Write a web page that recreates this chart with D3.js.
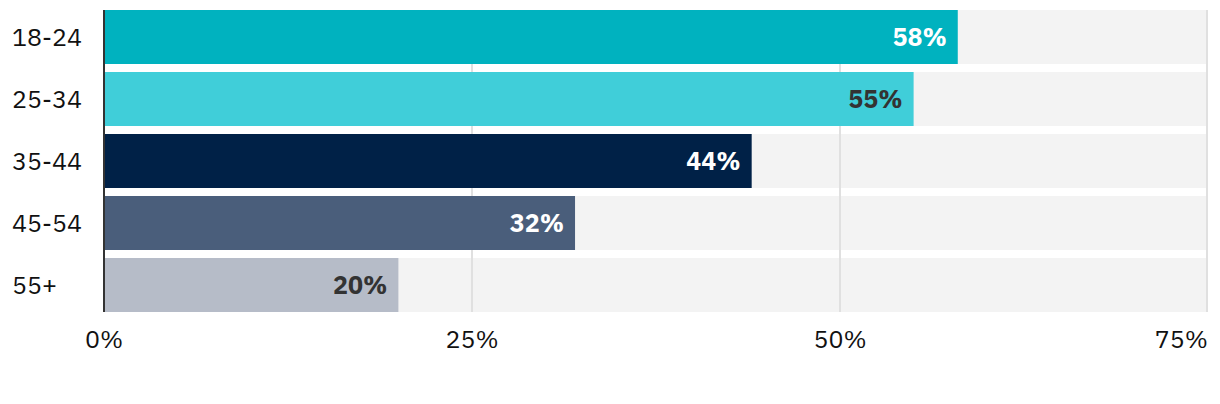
<!DOCTYPE html>
<html>
<head>
<meta charset="utf-8">
<script src="https://cdn.jsdelivr.net/npm/d3@7"></script>
<style>
  html, body { margin: 0; padding: 0; background: #fff; }
  svg { display: block; }
  text { font-family: "IBM Plex Sans", Inter, "Noto Sans", sans-serif; }
</style>
</head>
<body>
<div id="chart"></div>
<script>
const categories = ["18-24", "25-34", "35-44", "45-54", "55+"];
const values = [0.58, 0.55, 0.44, 0.32, 0.20];
const colors = ["#00b2bf", "#40ced9", "#002147", "#4a5e7b", "#b6bcc8"];
const labelColors = ["#ffffff", "#333333", "#ffffff", "#ffffff", "#333333"];
const tickValues = [0, 0.25, 0.5, 0.75];
const tickLabels = ["0%", "25%", "50%", "75%"];

const W = 1220, H = 404;
const svg = d3.select("#chart").append("svg").attr("width", W).attr("height", H);

const x = d3.scaleLinear().domain([0, 0.75]).range([104, 1208]);
const y = d3.scaleBand().domain(categories).range([10, 312]).paddingInner(8 / 62).paddingOuter(0);

const data = categories.map((c, i) => ({ c, v: values[i], color: colors[i], lc: labelColors[i] }));

// tracks
svg.append("g").selectAll("rect").data(data).join("rect")
  .attr("x", x(0)).attr("y", d => y(d.c))
  .attr("width", x(0.75) - x(0)).attr("height", y.bandwidth())
  .attr("fill", "#f3f3f3");

// gridlines
svg.append("g").selectAll("line").data(tickValues.slice(1)).join("line")
  .attr("x1", d => x(d) - (d === 0.75 ? 1 : 0)).attr("x2", d => x(d) - (d === 0.75 ? 1 : 0))
  .attr("y1", 10).attr("y2", 312)
  .attr("stroke", "#e0e0e0").attr("stroke-width", 2);

// bars
svg.append("g").selectAll("rect").data(data).join("rect")
  .attr("x", x(0)).attr("y", d => y(d.c))
  .attr("width", d => x(d.v) - x(0)).attr("height", y.bandwidth())
  .attr("fill", d => d.color);

// value labels
svg.append("g").selectAll("text").data(data).join("text")
  .attr("x", d => x(d.v) - 11)
  .attr("y", d => y(d.c) + y.bandwidth() / 2 + 9)
  .attr("text-anchor", "end")
  .attr("font-size", 25).attr("font-weight", 700)
  .attr("fill", d => d.lc)
  .text(d => Math.round(d.v * 100) + "%");

// axis line
svg.append("line")
  .attr("x1", x(0)).attr("x2", x(0)).attr("y1", 10).attr("y2", 312)
  .attr("stroke", "#333").attr("stroke-width", 2);

// category labels
svg.append("g").selectAll("text").data(categories).join("text")
  .attr("x", 12).attr("y", d => y(d) + y.bandwidth() / 2 + 9)
  .attr("font-size", 25).attr("fill", "#111")
  .text(d => d);

// x tick labels
svg.append("g").selectAll("text").data(tickValues).join("text")
  .attr("x", d => x(d))
  .attr("y", 348)
  .attr("text-anchor", d => d === 0.75 ? "end" : "middle")
  .attr("font-size", 25).attr("fill", "#111")
  .text((d, i) => tickLabels[i]);
</script>
</body>
</html>
